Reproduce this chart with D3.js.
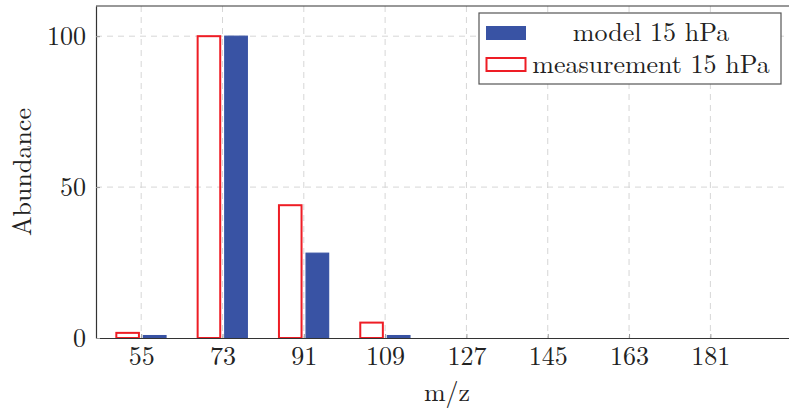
<!DOCTYPE html>
<html lang="en">
  <head>
    <meta charset="UTF-8" />
    <title>Abundance vs m/z</title>
    <style>
      body {
        margin: 0;
        background: #fff;
      }
      svg {
        display: block;
      }
      svg text {
        font-family: "Latin Modern Roman", "Liberation Serif", serif;
      }
      .grid line {
        stroke: #d6d6d6;
        stroke-dasharray: 6, 5;
      }
    </style>
  </head>
  <body>
    <svg width="789" height="409"></svg>
    <script src="https://d3js.org/d3.v7.min.js"></script>
    <script>
      const masses = [55, 73, 91, 109, 127, 145, 163, 181];
      const model = [0.8, 100, 28.1, 0.8, 0, 0, 0, 0];
      const measurement = [1.7, 100, 44, 5.1, 0, 0, 0, 0];
      const yTicks = [0, 50, 100];
      const seriesNames = ["model 15 hPa", "measurement 15 hPa"];

      const blue = "#3953a4",
        red = "#ee1d25";

      const svg = d3.select("svg");
      const plotLeft = 96,
        plotRight = 798,
        plotTop = 6,
        plotBottom = 338;

      const x = d3.scaleLinear().domain([45, 200.4]).range([plotLeft, plotRight]);
      const y = d3.scaleLinear().domain([0, 110]).range([plotBottom, plotTop]);

      // grid
      const grid = svg.append("g").attr("class", "grid");
      grid
        .selectAll("line.v")
        .data(masses)
        .join("line")
        .attr("class", "v")
        .attr("x1", (d) => x(d))
        .attr("x2", (d) => x(d))
        .attr("y1", plotTop)
        .attr("y2", plotBottom);
      grid
        .selectAll("line.h")
        .data(yTicks.filter((d) => d > 0))
        .join("line")
        .attr("class", "h")
        .attr("x1", plotLeft)
        .attr("x2", plotRight)
        .attr("y1", (d) => y(d))
        .attr("y2", (d) => y(d));

      const off = 3,
        bw = 5;

      // measurement bars (outlined)
      svg
        .append("g")
        .selectAll("rect")
        .data(masses.map((m, i) => ({ m, v: measurement[i] })).filter((d) => d.v > 0))
        .join("rect")
        .attr("x", (d) => x(d.m - off - bw / 2))
        .attr("width", x(bw) - x(0))
        .attr("y", (d) => y(d.v))
        .attr("height", (d) => y(0) - y(d.v))
        .attr("fill", "none")
        .attr("stroke", red)
        .attr("stroke-width", 2);

      // model bars (filled)
      svg
        .append("g")
        .selectAll("rect")
        .data(masses.map((m, i) => ({ m, v: model[i] })).filter((d) => d.v > 0))
        .join("rect")
        .attr("x", (d) => x(d.m + off - bw / 2))
        .attr("width", x(bw) - x(0))
        .attr("y", (d) => y(d.v))
        .attr("height", (d) => y(0) - y(d.v))
        .attr("fill", blue)
        .attr("stroke", blue)
        .attr("stroke-width", 1.2);

      // axes
      const xAxis = svg
        .append("g")
        .attr("transform", `translate(0,${plotBottom})`)
        .call(d3.axisBottom(x).tickValues(masses).tickSizeInner(-4).tickSizeOuter(0).tickPadding(9));
      xAxis.select(".domain").attr("stroke", "#333").attr("stroke-width", 1.2);
      xAxis.selectAll(".tick line").attr("stroke", "#999");
      xAxis
        .selectAll(".tick text")
        .attr("font-size", 26)
        .attr("fill", "#222");

      const yAxis = svg
        .append("g")
        .attr("transform", `translate(${plotLeft},0)`)
        .call(d3.axisLeft(y).tickValues(yTicks).tickSizeInner(-4).tickSizeOuter(0).tickPadding(10));
      yAxis.select(".domain").attr("stroke", "#333").attr("stroke-width", 1.2);
      yAxis.selectAll(".tick line").attr("stroke", "#999");
      yAxis
        .selectAll(".tick text")
        .attr("font-size", 26)
        .attr("fill", "#222");

      // top border
      svg
        .append("line")
        .attr("x1", plotLeft)
        .attr("x2", plotRight)
        .attr("y1", plotTop)
        .attr("y2", plotTop)
        .attr("stroke", "#333")
        .attr("stroke-width", 1.2);

      // axis titles
      svg
        .append("text")
        .attr("x", (plotLeft + plotRight) / 2)
        .attr("y", 401)
        .attr("text-anchor", "middle")
        .attr("font-size", 26)
        .attr("fill", "#222")
        .text("m/z");
      svg
        .append("text")
        .attr("transform", `translate(31,${(plotTop + plotBottom) / 2}) rotate(-90)`)
        .attr("text-anchor", "middle")
        .attr("font-size", 26)
        .attr("fill", "#222")
        .text("Abundance");

      // legend
      const lg = svg.append("g").attr("transform", "translate(479,13)");
      lg.append("rect")
        .attr("width", 302)
        .attr("height", 71)
        .attr("fill", "#fff")
        .attr("stroke", "#555")
        .attr("stroke-width", 1.2);
      lg.append("rect")
        .attr("x", 7)
        .attr("y", 13)
        .attr("width", 40)
        .attr("height", 14)
        .attr("fill", blue);
      lg.append("rect")
        .attr("x", 7.5)
        .attr("y", 45)
        .attr("width", 39)
        .attr("height", 13)
        .attr("fill", "none")
        .attr("stroke", red)
        .attr("stroke-width", 2);
      lg.selectAll("text")
        .data(seriesNames)
        .join("text")
        .attr("x", 172)
        .attr("y", (d, i) => 28 + i * 32)
        .attr("text-anchor", "middle")
        .attr("font-size", 26)
        .attr("fill", "#222")
        .text((d) => d);
    </script>
  </body>
</html>
